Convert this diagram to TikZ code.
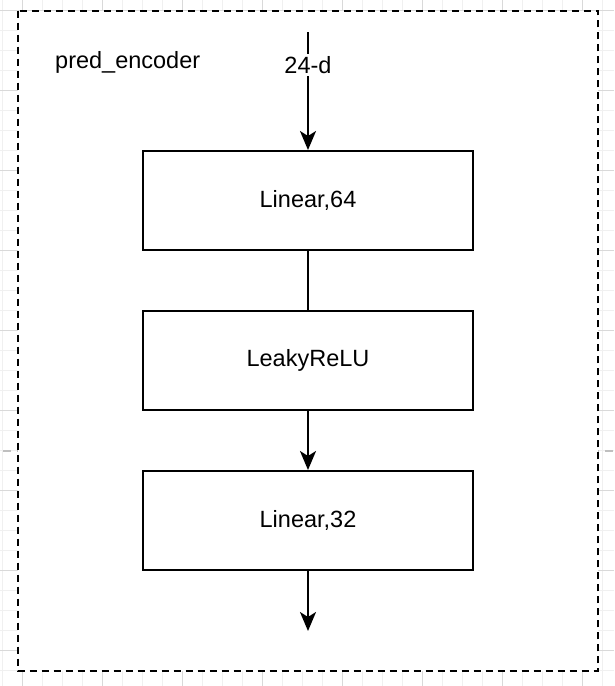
\documentclass[tikz,border=0pt]{standalone}
\usepackage{fontspec}
\setmainfont{Liberation Sans}
\usetikzlibrary{arrows.meta}
\begin{document}
\begin{tikzpicture}[x=1pt,y=-1pt,
  gridminor/.style={draw=black!6,line width=1pt},
  gridmajor/.style={draw=black!15,line width=1pt},
  lbl/.style={font=\fontsize{23.5}{28}\selectfont},
  layerbox/.style={lbl,draw=black,line width=2pt,minimum width=330pt,minimum height=99pt,fill=white},
  conn/.style={draw=black,line width=2pt},
  arr/.style={conn,-{Stealth[length=19pt,width=16pt,inset=5pt]}},
  frame/.style={draw=black,line width=2.2pt,dash pattern=on 7pt off 5pt,fill=white}]
  \useasboundingbox (0,0) rectangle (614,686);
  % canvas grid
  \fill[white] (0,0) rectangle (614,686);
  \foreach \x in {2.7,22.7,...,614} \draw[gridminor] (\x,0) -- (\x,686);
  \foreach \y in {10,30,...,686} \draw[gridminor] (0,\y) -- (614,\y);
  \foreach \x in {22.7,102.7,...,614} \draw[gridmajor] (\x,0) -- (\x,686);
  \foreach \y in {10,90,...,686} \draw[gridmajor] (0,\y) -- (614,\y);
  % page break
  \draw[draw=black!25,line width=2pt,dash pattern=on 8pt off 6pt] (3,451) -- (614,451);
  % container
  \draw[frame] (17.7,10.7) rectangle (598.3,670.7);
  \node[lbl,anchor=west,inner sep=0pt] (title) at (55,62) {pred\_encoder};
  % layers
  \node[layerbox] (lin64) at (308,200.5) {Linear,64};
  \node[layerbox] (relu) at (308,360.5) {LeakyReLU};
  \node[layerbox] (lin32) at (308,520.5) {Linear,32};
  % connectors
  \coordinate (in) at (308,32);
  \coordinate (out) at (308,631);
  \draw[arr] (in) -- (lin64.north);
  \node[lbl,fill=white,inner sep=2pt] (dim) at (308,65) {24-d};
  \draw[conn] (lin64.south) -- (relu.north);
  \draw[arr] (relu.south) -- (lin32.north);
  \draw[arr] (lin32.south) -- (out);
\end{tikzpicture}
\end{document}
